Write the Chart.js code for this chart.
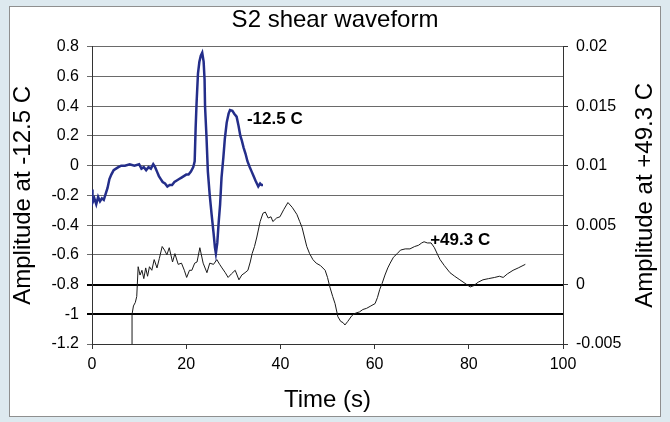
<!DOCTYPE html>
<html>
<head>
<meta charset="utf-8">
<title>S2 shear waveform</title>
<script src="https://cdn.jsdelivr.net/npm/chart.js@4/dist/chart.umd.min.js"></script>
<style>
  body { margin: 0; background: #dde9ef; }
  #chartBox { width: 670px; height: 422px; }
</style>
</head>
<body>
<div id="chartBox"><canvas id="waveChart" width="670" height="422"></canvas></div>
<script>
// -12.5 C run (left axis)
const coldTime = [0, 0.1, 0.5, 0.9, 1.3, 1.7, 2.1, 2.5, 2.9, 3.3, 3.7, 4.1, 4.6, 5.1, 5.6, 6.2, 7.0, 8.0, 9.0, 10.0,
  10.5, 11.0, 11.5, 12.0, 12.5, 13.0, 13.4, 13.8, 14.2, 14.6, 15.0, 15.5, 16.0, 16.5, 17.0, 17.5, 18.0, 18.5, 19.0, 19.5,
  20.0, 20.5, 21.0, 21.5, 21.8, 22.0, 22.2, 22.5, 22.8, 23.1, 23.4, 23.7, 23.9, 24.0, 24.3, 24.6, 25.0, 25.4, 25.8, 26.1,
  26.3, 26.6, 26.9, 27.2, 27.5, 27.9, 28.2, 28.6, 29.0, 29.3, 29.8, 30.2, 30.7, 31.1, 31.5, 31.8, 32.2, 32.6, 33.0, 33.5,
  33.9, 34.3, 34.7, 35.0, 35.3, 35.7, 36.0, 36.3];
const coldAmp = [-0.16, -0.25, -0.22, -0.26, -0.21, -0.24, -0.22, -0.23, -0.19, -0.15, -0.09, -0.06, -0.03, -0.02, -0.01, 0.0, 0.0, 0.01, 0.0, 0.01,
  -0.02, -0.01, -0.03, -0.01, -0.02, 0.01, -0.01, -0.04, -0.07, -0.09, -0.11, -0.12, -0.14, -0.13, -0.13, -0.11, -0.1, -0.09, -0.08, -0.07,
  -0.06, -0.06, -0.04, -0.01, 0.03, 0.25, 0.42, 0.62, 0.7, 0.74, 0.76, 0.7, 0.58, 0.4, 0.2, -0.04, -0.2, -0.33, -0.45, -0.55,
  -0.59, -0.52, -0.38, -0.26, -0.08, 0.06, 0.18, 0.29, 0.35, 0.375, 0.37, 0.35, 0.33, 0.27, 0.2, 0.17, 0.12, 0.08, 0.03, -0.01,
  -0.04, -0.07, -0.1, -0.12, -0.14, -0.12, -0.13, -0.13];

// +49.3 C run (right axis)
const hotTime = [8.5, 8.5, 8.8, 9.2, 9.5, 9.8, 10.2, 10.6, 11.0, 11.4, 11.8, 12.2, 12.7, 13.2, 13.8, 14.3, 14.9, 15.4, 15.9, 16.4,
  17.1, 17.6, 18.3, 19.0, 19.6, 20.1, 20.7, 21.2, 21.8, 22.3, 22.9, 23.6, 24.4, 25.0, 25.8, 26.5, 27.1, 27.6, 28.3, 28.9,
  29.6, 30.4, 31.2, 31.8, 32.5, 33.1, 33.6, 34.0, 34.5, 35.0, 35.7, 36.3, 36.8, 37.4, 38.0, 38.4, 39.2, 39.9, 40.7, 41.6,
  42.5, 43.5, 44.1, 44.6, 45.1, 45.6, 46.2, 46.9, 47.6, 48.5, 49.5, 50.0, 50.5, 51.1, 51.6, 52.2, 52.8, 53.3, 53.7, 54.3,
  55.2, 56.0, 56.8, 57.5, 58.3, 59.2, 60.1, 60.6, 61.1, 61.6, 62.2, 62.8, 63.3, 64.0, 64.8, 65.5, 66.5, 67.5, 68.5, 69.3,
  70.0, 70.5, 71.2, 72.0, 72.7, 73.4, 73.9, 74.8, 76.0, 77.0, 78.1, 79.2, 80.3, 81.0, 82.0, 83.0, 84.2, 85.5, 86.5, 87.3,
  88.2, 89.4, 90.5, 92.0];
const hotAmp = [-0.005, -0.0025, -0.0018, -0.0015, -0.001, 0.0015, 0.0008, 0.0012, 0.0005, 0.0014, 0.0007, 0.0015, 0.0012, 0.0021, 0.0014, 0.0022, 0.0032, 0.0029, 0.0025, 0.0031,
  0.0019, 0.0026, 0.0017, 0.0018, 0.0012, 0.0006, 0.0012, 0.0012, 0.0018, 0.0019, 0.0031, 0.0018, 0.001, 0.0018, 0.0017, 0.0021, 0.0017, 0.0014, 0.001, 0.0006,
  0.0009, 0.0012, 0.0004, 0.0008, 0.001, 0.0012, 0.0019, 0.0026, 0.0032, 0.004, 0.0053, 0.006, 0.0061, 0.0056, 0.0057, 0.0053, 0.0056, 0.0057, 0.0063, 0.0069,
  0.0065, 0.0059, 0.0053, 0.0048, 0.004, 0.0032, 0.0026, 0.0021, 0.0018, 0.0016, 0.0012, 0.0006, -0.0002, -0.001, -0.0016, -0.0027, -0.0031, -0.0032, -0.0034, -0.0031,
  -0.0026, -0.0024, -0.0023, -0.0021, -0.002, -0.0018, -0.0016, -0.0011, -0.0004, 0.0001, 0.0008, 0.0014, 0.0018, 0.0023, 0.0026, 0.0029, 0.003, 0.003, 0.0032, 0.0033,
  0.0035, 0.0036, 0.0035, 0.0035, 0.0031, 0.0025, 0.0021, 0.0016, 0.001, 0.0007, 0.0004, 0.0001, -0.0002, -0.0001, 0.0002, 0.0004, 0.0005, 0.0006, 0.0007, 0.0006,
  0.0009, 0.0012, 0.0014, 0.0017];

// axis ranges / ticks
const timeTicks = [0, 100, 20];
const leftTicks = [-1.2, 0.8, 0.2];
const rightTicks = [-0.005, 0.02, 0.005];

// series labels placed next to the curves
const seriesNotes = [
  { text: "-12.5 C", x: 32.9, y: 0.31, axis: "yL" },
  { text: "+49.3 C", x: 71.8, y: 0.00375, axis: "yR" },
];
const rightTitle = "Amplitude at +49.3 C";

const FONT = 'Arial, "Liberation Sans", sans-serif';

const toXY = (xs, ys) => xs.map((x, i) => ({ x: x, y: ys[i] }));
// excel style numbers: 0.02, -1, 0
const fmt = (v) => String(Number(v.toFixed(4)));
const isDark = (v) => Math.abs(v + 0.8) < 1e-6 || Math.abs(v + 1) < 1e-6;

const framePlugin = {
  id: "frame",
  beforeDraw: (chart) => {
    const c = chart.ctx;
    c.save();
    c.fillStyle = "#dde9ef";
    c.fillRect(0, 0, chart.width, chart.height);
    c.fillStyle = "#ffffff";
    c.fillRect(9, 6, 652, 411);
    c.strokeStyle = "#8f8f8f";
    c.lineWidth = 1;
    c.strokeRect(9.5, 6.5, 651, 410);
    c.restore();
  },
};

const notesPlugin = {
  id: "notes",
  afterDatasetsDraw: (chart) => {
    const c = chart.ctx;
    c.save();
    c.font = "bold 17px " + FONT;
    c.fillStyle = "#000";
    c.textAlign = "left";
    c.textBaseline = "middle";
    seriesNotes.forEach((n) => {
      c.fillText(n.text, chart.scales.x.getPixelForValue(n.x), chart.scales[n.axis].getPixelForValue(n.y));
    });
    // right axis title reads bottom to top, like the left one
    const yr = chart.scales.yR;
    c.font = "24px " + FONT;
    c.textAlign = "center";
    c.translate(yr.right - 25, (yr.top + yr.bottom) / 2);
    c.rotate(-Math.PI / 2);
    c.fillText(rightTitle, 0, 0);
    c.restore();
  },
};

let ctx = document.getElementById("waveChart").getContext("2d");
new Chart(ctx, {
  type: "line",
  data: {
    datasets: [
      {
        label: "-12.5 C",
        data: toXY(coldTime, coldAmp),
        yAxisID: "yL",
        borderColor: "rgb(36, 46, 138)",
        borderWidth: 2.5,
        pointRadius: 0,
        tension: 0,
      },
      {
        label: "+49.3 C",
        data: toXY(hotTime, hotAmp),
        yAxisID: "yR",
        borderColor: "#1a1a1a",
        borderWidth: 1,
        pointRadius: 0,
        tension: 0,
      },
    ],
  },
  options: {
    responsive: false,
    animation: false,
    layout: { padding: 0 },
    plugins: {
      legend: { display: false },
      tooltip: { enabled: false },
      title: {
        display: true,
        text: "S2 shear waveform",
        color: "#000",
        font: { family: FONT, size: 24, weight: "normal", lineHeight: 1.2 },
        padding: { top: 6, bottom: 12 },
      },
    },
    scales: {
      x: {
        type: "linear",
        min: timeTicks[0],
        max: timeTicks[1],
        afterFit: (s) => { s.height = 78; },
        ticks: { stepSize: timeTicks[2], color: "#000", padding: 6, font: { family: FONT, size: 16 }, callback: fmt },
        grid: { drawOnChartArea: false, tickLength: 5, color: "#333" },
        border: { color: "#333", width: 1 },
        title: {
          display: true,
          text: "Time (s)",
          color: "#000",
          font: { family: FONT, size: 24, lineHeight: 1.2 },
          padding: { top: 0, bottom: 7 },
        },
      },
      yL: {
        type: "linear",
        position: "left",
        min: leftTicks[0],
        max: leftTicks[1],
        afterFit: (s) => { s.width = 92; },
        ticks: { stepSize: leftTicks[2], color: "#000", padding: 8, font: { family: FONT, size: 16 }, callback: fmt },
        grid: {
          tickLength: 5,
          color: (c) => (isDark(c.tick.value) ? "#000" : "#6a6a6a"),
          lineWidth: (c) => (isDark(c.tick.value) ? 2 : 1),
        },
        border: { color: "#333", width: 1 },
        title: {
          display: true,
          text: "Amplitude at -12.5 C",
          color: "#000",
          font: { family: FONT, size: 24, lineHeight: 1.2 },
          padding: { top: 9, bottom: 0 },
        },
      },
      yR: {
        type: "linear",
        position: "right",
        min: rightTicks[0],
        max: rightTicks[1],
        afterFit: (s) => { s.width = 107; },
        ticks: { stepSize: rightTicks[2], color: "#000", padding: 8, font: { family: FONT, size: 16 }, callback: fmt },
        grid: { drawOnChartArea: false, tickLength: 5, color: "#333" },
        border: { color: "#333", width: 1 },
      },
    },
  },
  plugins: [framePlugin, notesPlugin],
});
</script>
</body>
</html>
